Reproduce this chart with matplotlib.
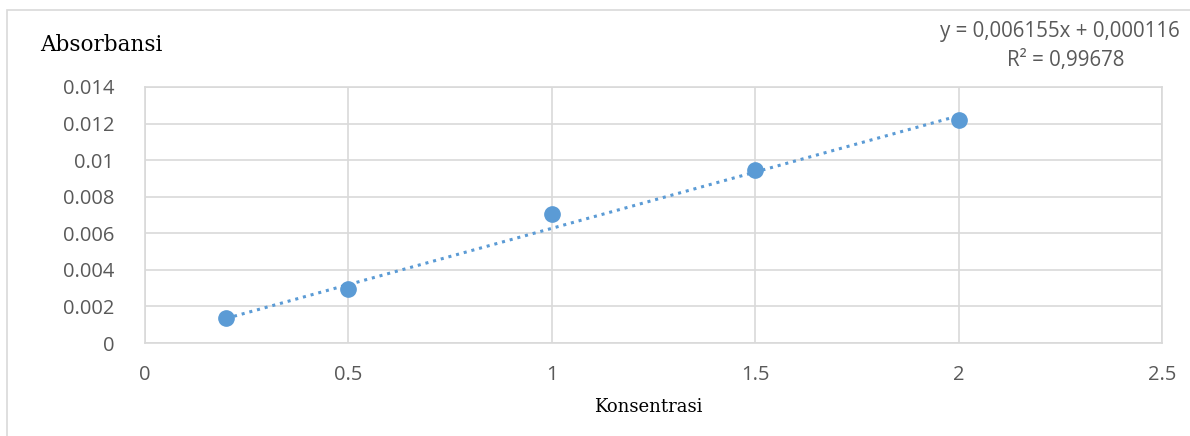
import matplotlib.pyplot as plt
import numpy as np
from matplotlib.patches import Rectangle

# data
konsentrasi = [0.2, 0.5, 1.0, 1.5, 2.0]
absorbansi = [0.00135, 0.00295, 0.00703, 0.00945, 0.01217]
x_ticks = [0, 0.5, 1, 1.5, 2, 2.5]
x_labels = ["0", "0.5", "1", "1.5", "2", "2.5"]
y_ticks = [0, 0.002, 0.004, 0.006, 0.008, 0.010, 0.012, 0.014]
y_labels = ["0", "0.002", "0.004", "0.006", "0.008", "0.01", "0.012", "0.014"]
slope, intercept = 0.006155, 0.000116

blue = "#5B9BD5"
grid = "#D9D9D9"
tick_col = "#595959"

fig = plt.figure(figsize=(11.9, 4.36), dpi=100)
fig.patches.append(Rectangle((7 / 1190, -0.01), 1.0, 1 - 10 / 436 + 0.01,
                             transform=fig.transFigure, fill=False,
                             edgecolor=grid, linewidth=1.2))
ax = fig.add_axes([145 / 1190, 1 - 343 / 436, (1162 - 145) / 1190, (343 - 87) / 436])

# trendline
xt = np.array([konsentrasi[0], konsentrasi[-1]])
ax.plot(xt, slope * xt + intercept, linestyle=(0, (1, 1.6)), color=blue,
        linewidth=2.2, zorder=3)
ax.plot(konsentrasi, absorbansi, "o", color=blue, markersize=11, zorder=4)

ax.set_xlim(0, 2.5)
ax.set_ylim(0, 0.014)
ax.set_xticks(x_ticks)
ax.set_xticklabels(x_labels)
ax.set_yticks(y_ticks)
ax.set_yticklabels(y_labels)
ax.grid(True, color=grid, linewidth=1.2)
ax.set_axisbelow(True)
for s in ax.spines.values():
    s.set_color(grid)
    s.set_linewidth(1.2)
ax.tick_params(length=0, labelsize=14.5, labelcolor=tick_col)
ax.tick_params(axis="x", pad=16)
ax.tick_params(axis="y", pad=22)
for lab in ax.get_xticklabels() + ax.get_yticklabels():
    lab.set_family("Open Sans")

fig.text(40 / 1190, 1 - 45 / 436, "Absorbansi", family="DejaVu Serif",
         fontsize=15.5, va="center", ha="left")
fig.text(648 / 1190, 1 - 407 / 436, "Konsentrasi", family="DejaVu Serif",
         fontsize=13, va="center", ha="center")
fig.text(1060 / 1190, 1 - 32 / 436, "y = 0,006155x + 0,000116", family="Open Sans",
         fontsize=14.8, color=tick_col, va="center", ha="center")
fig.text(1066 / 1190, 1 - 60 / 436, "R² = 0,99678", family="Open Sans",
         fontsize=14.8, color=tick_col, va="center", ha="center")

fig.savefig("out.png", dpi=100)
